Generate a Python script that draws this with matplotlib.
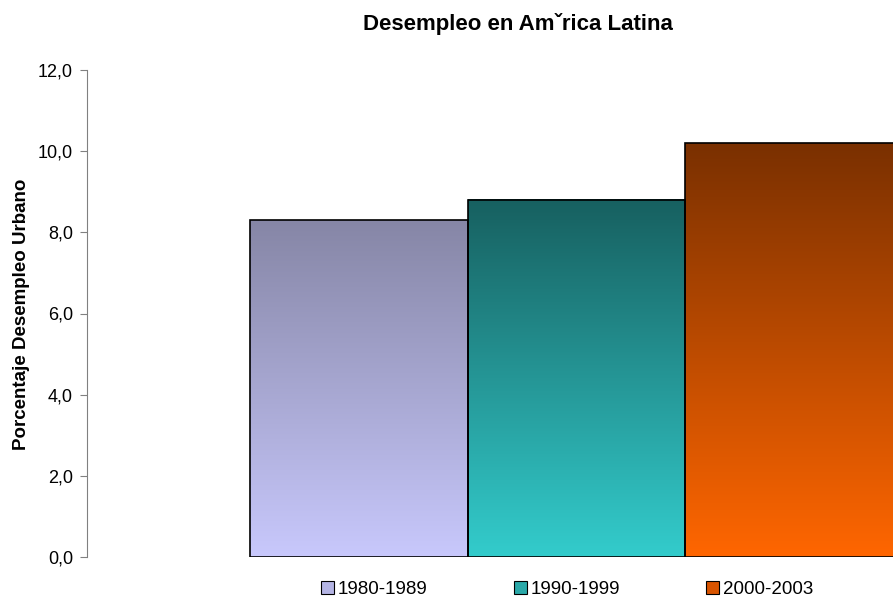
import numpy as np
import matplotlib
matplotlib.use("Agg")
import matplotlib.pyplot as plt
from matplotlib.patches import Rectangle, Patch
from matplotlib.colors import LinearSegmentedColormap

plt.rcParams['font.family'] = ['Liberation Sans', 'DejaVu Sans']

periods = ['1980-1989', '1990-1999', '2000-2003']
values = [8.3, 8.8, 10.2]
# (bottom colour, top colour) of each bar's gradient
colors_bottom = ['#c8c8fc', '#33cccc', '#ff6600']
colors_top = ['#8686a6', '#176060', '#7a3000']
colors_legend = ['#b4b4e4', '#2aa8a8', '#d85400']
y_ticks = [0, 2, 4, 6, 8, 10, 12]

fig = plt.figure(figsize=(8.93, 5.97), dpi=100)
ax = fig.add_axes([87/893, 40/597, 1 - 87/893, (557-70)/597])

grad = np.linspace(0, 1, 256).reshape(-1, 1)
for i, v in enumerate(values):
    cmap = LinearSegmentedColormap.from_list('g%d' % i, [colors_bottom[i], colors_top[i]])
    ax.imshow(grad, cmap=cmap, origin='lower', aspect='auto',
              extent=[i - 0.5, i + 0.5, 0, v], zorder=2, interpolation='bilinear')
    ax.add_patch(Rectangle((i - 0.5, 0), 1, v, fill=False, edgecolor='black',
                           linewidth=1.2, zorder=3))

ax.set_xlim(-1.25, 2.456)
ax.set_ylim(0, 12)
ax.set_xticks([])
ax.set_yticks(y_ticks)
ax.set_yticklabels([('%.1f' % t).replace('.', ',') for t in y_ticks])
ax.tick_params(axis='y', direction='out', length=5, color='#808080', labelsize=13, pad=5)
for s in ['top', 'right', 'bottom']:
    ax.spines[s].set_visible(False)
ax.spines['left'].set_color('#808080')

ax.set_ylabel('Porcentaje Desempleo Urbano', fontsize=13.5, fontweight='bold')
ax.yaxis.set_label_coords(-0.0707, 0.499)
fig.text(518/893, 0.96, 'Desempleo en Amˇrica Latina', ha='center', va='center',
         fontsize=16, fontweight='bold')

handles = [Patch(facecolor=c, edgecolor='black', linewidth=0.8) for c in colors_legend]
fig.legend(handles, periods, loc='center', bbox_to_anchor=(0.635, 0.012), ncol=3,
           frameon=False, fontsize=13.5, handlelength=0.7, handleheight=0.7,
           handletextpad=0.2, columnspacing=4.6)

fig.savefig('out.png', dpi=100)
